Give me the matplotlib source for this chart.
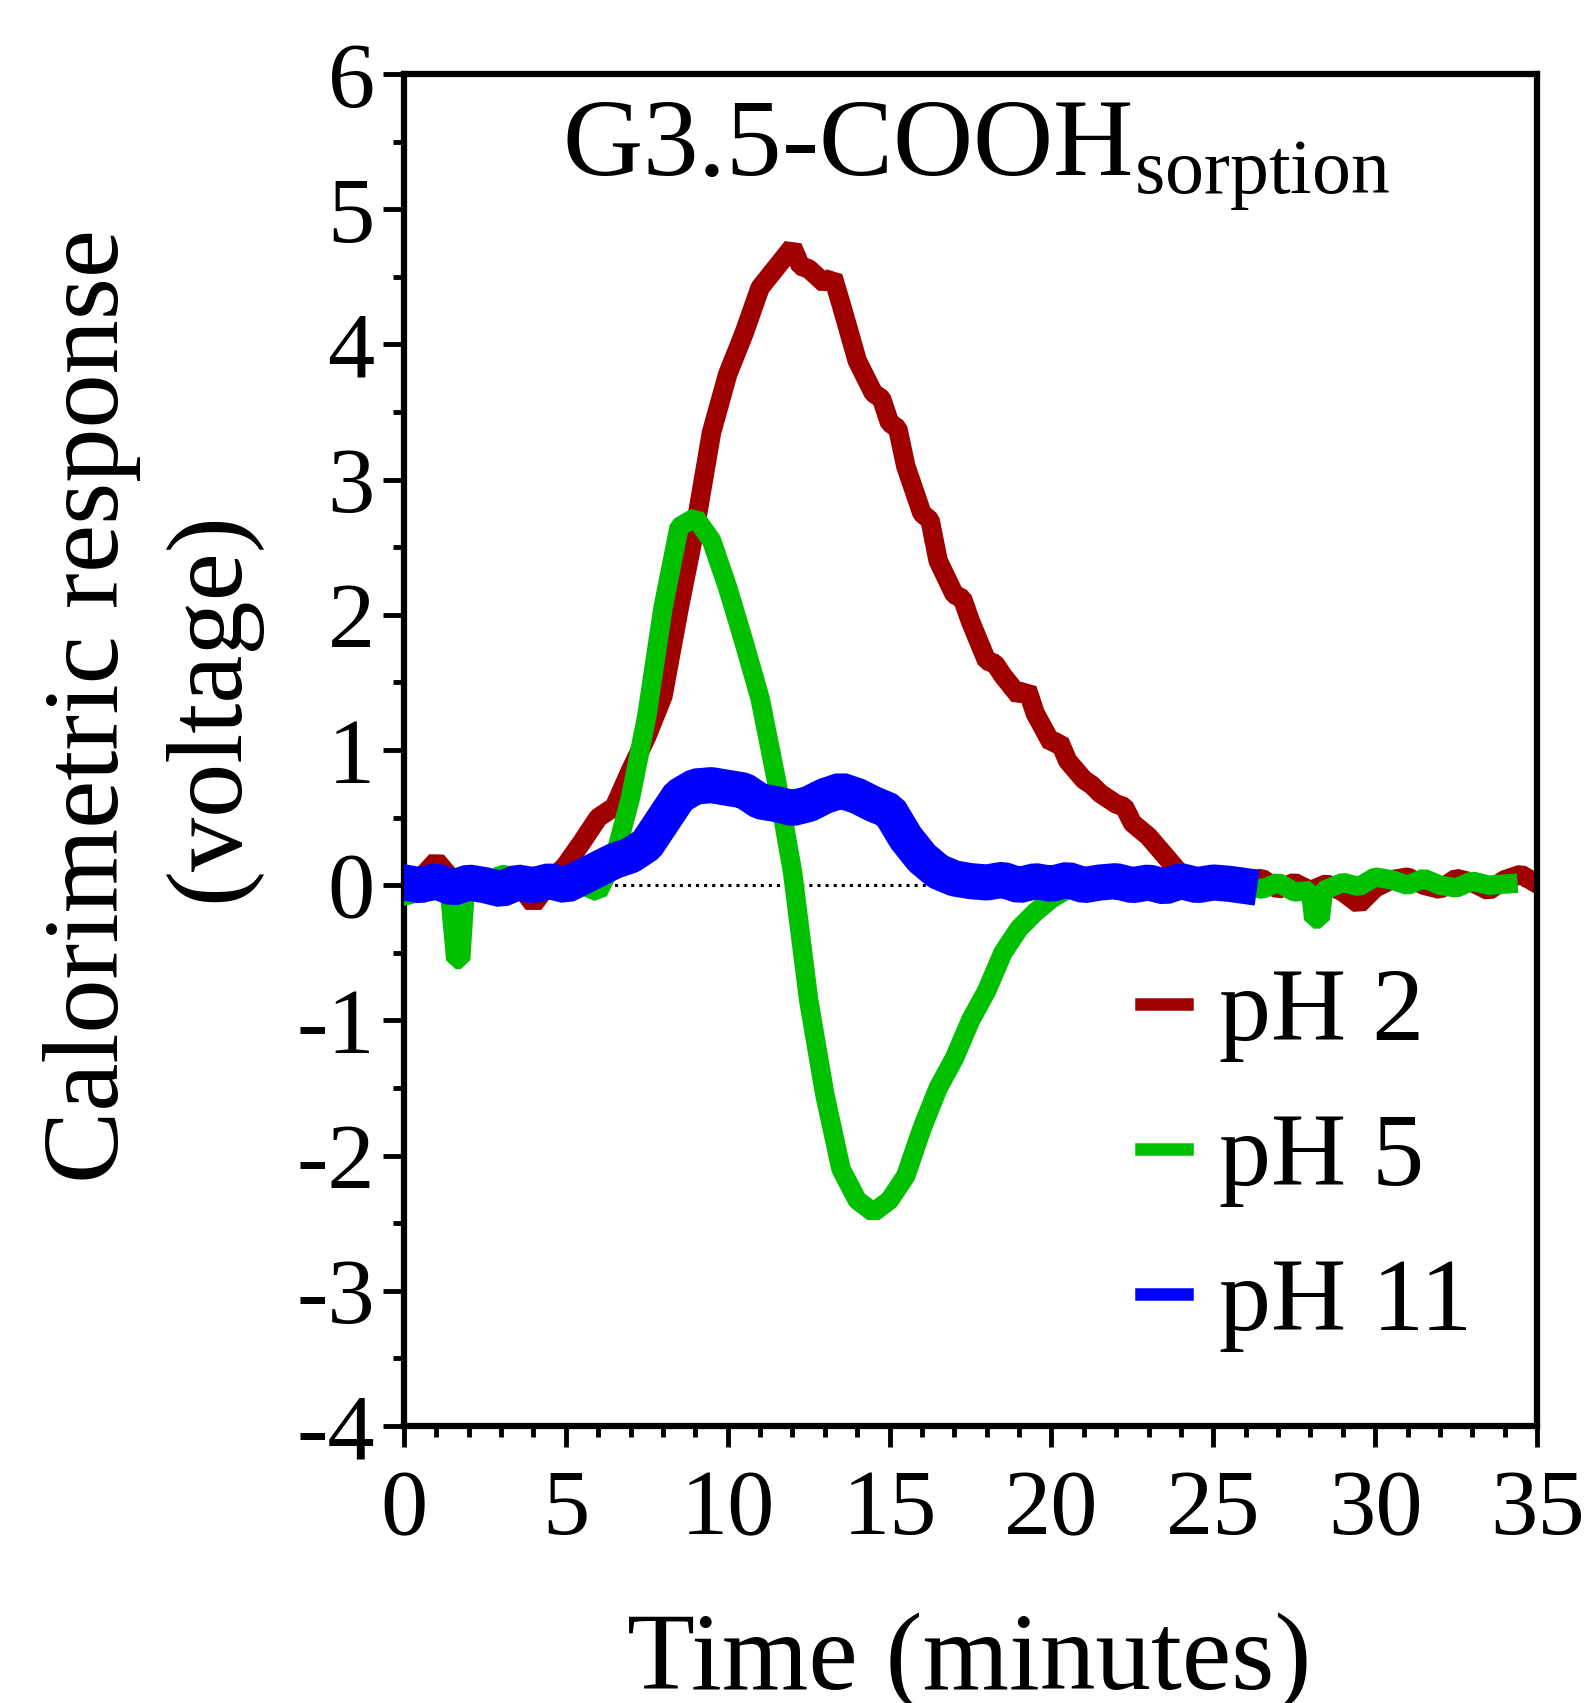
import numpy as np
import matplotlib.pyplot as plt
from matplotlib.ticker import MultipleLocator
from matplotlib.lines import Line2D

plt.rcParams['font.family'] = 'Liberation Serif'
plt.rcParams['mathtext.fontset'] = 'custom'
plt.rcParams['mathtext.rm'] = 'Liberation Serif'
plt.rcParams['axes.unicode_minus'] = False

# ---- data (time in minutes, response in V) ----
t_ph2 = [0, 0.5, 1.0, 1.5, 2.0, 2.5, 3.0, 3.5, 4.0, 4.5, 5.0, 5.5, 6.0, 6.5, 7.0,
         7.5, 8.0, 8.5, 9.0, 9.5, 10.0, 10.5, 11.0, 11.5, 12.0, 12.25, 12.5, 13.0,
         13.25, 13.5, 14.0, 14.5, 14.75, 15.0, 15.25, 15.5, 16.0, 16.25, 16.5, 17.0,
         17.25, 17.5, 18.0, 18.25, 18.5, 19.0, 19.25, 19.5, 20.0, 20.25, 20.5, 21.0,
         21.25, 21.5, 22.0, 22.25, 22.5, 23.0, 23.5, 24.0, 24.5, 25.0, 25.5, 26.0,
         26.5, 27.0, 27.5, 28.0, 28.5, 29.0, 29.5, 30.0, 30.5, 31.0, 31.5, 32.0,
         32.5, 33.0, 33.5, 34.0, 34.5, 35.0]
v_ph2 = [0.02, 0.05, 0.18, 0.04, 0.03, -0.04, 0.05, 0.02, -0.14, 0.02, 0.15, 0.32,
         0.50, 0.58, 0.85, 1.10, 1.40, 2.05, 2.65, 3.35, 3.78, 4.08, 4.42, 4.57,
         4.72, 4.58, 4.56, 4.45, 4.50, 4.30, 3.88, 3.64, 3.60, 3.42, 3.38, 3.10,
         2.75, 2.70, 2.40, 2.15, 2.12, 1.95, 1.66, 1.64, 1.55, 1.40, 1.45, 1.27,
         1.05, 1.06, 0.92, 0.78, 0.74, 0.68, 0.60, 0.58, 0.46, 0.36, 0.22, 0.08,
         0.02, 0.05, -0.02, 0.03, 0.05, -0.03, 0.02, -0.04, 0.01, -0.05, -0.14,
         -0.02, 0.04, 0.06, 0.00, -0.03, 0.05, 0.02, -0.04, 0.04, 0.08, 0.01]

t_ph5 = [0, 0.5, 1.0, 1.4, 1.6, 1.75, 1.9, 2.5, 3.0, 3.5, 4.0, 4.5, 5.0, 5.5, 6.0,
         6.5, 7.0, 7.5, 8.0, 8.5, 9.0, 9.5, 10.0, 10.5, 11.0, 11.5, 12.0, 12.5,
         13.0, 13.5, 14.0, 14.5, 15.0, 15.5, 16.0, 16.5, 17.0, 17.5, 18.0, 18.5,
         19.0, 19.5, 20.0, 20.5, 21.0, 21.5, 22.0, 22.5, 23.0, 23.5, 24.0, 24.5,
         25.0, 25.5, 26.0, 26.5, 27.0, 27.5, 28.0, 28.1, 28.3, 28.4, 29.0, 29.5,
         30.0, 30.5, 31.0, 31.5, 32.0, 32.5, 33.0, 33.5, 34.1]
v_ph5 = [-0.08, -0.05, -0.04, -0.03, -0.55, -0.55, 0.00, -0.03, 0.08, 0.06, 0.00,
         -0.03, -0.02, 0.00, -0.05, 0.20, 0.65, 1.25, 2.05, 2.65, 2.72, 2.55, 2.20,
         1.80, 1.38, 0.78, 0.10, -0.85, -1.55, -2.10, -2.33, -2.42, -2.33, -2.15,
         -1.80, -1.50, -1.28, -1.00, -0.78, -0.50, -0.32, -0.20, -0.10, -0.03, 0.03,
         0.05, 0.04, 0.02, 0.05, 0.03, 0.06, 0.02, 0.05, 0.02, 0.00, -0.03, 0.02,
         -0.05, -0.04, -0.25, -0.25, -0.04, 0.02, -0.01, 0.06, 0.04, 0.00, 0.05,
         0.00, -0.02, 0.03, 0.00, 0.01]

t_ph11 = [0, 0.5, 1.0, 1.5, 2.0, 2.5, 3.0, 3.5, 4.0, 4.5, 5.0, 5.5, 6.0, 6.5, 7.0,
          7.5, 8.0, 8.5, 9.0, 9.5, 10.0, 10.5, 11.0, 11.5, 12.0, 12.5, 13.0, 13.5,
          14.0, 14.5, 15.0, 15.5, 16.0, 16.5, 17.0, 17.5, 18.0, 18.5, 19.0, 19.5,
          20.0, 20.5, 21.0, 21.5, 22.0, 22.5, 23.0, 23.5, 24.0, 24.5, 25.0, 25.5,
          25.8]
v_ph11 = [0.02, 0.00, 0.03, -0.02, 0.02, 0.00, -0.03, 0.02, 0.00, 0.03, 0.00, 0.06,
          0.12, 0.18, 0.22, 0.30, 0.48, 0.66, 0.73, 0.74, 0.72, 0.70, 0.62, 0.60,
          0.57, 0.60, 0.66, 0.70, 0.66, 0.60, 0.55, 0.35, 0.20, 0.10, 0.05, 0.03,
          0.02, 0.04, 0.00, 0.03, 0.01, 0.04, 0.00, 0.02, 0.03, 0.00, 0.02, -0.01,
          0.03, 0.00, 0.02, 0.01, 0.00]

labels = ['pH 2', 'pH 5', 'pH 11']
colors = ['#A00000', '#00C000', '#0000FF']

fig = plt.figure(figsize=(15.93, 17.03), dpi=100)
ax = fig.add_axes([0.2536, 0.1627, 0.7113, 0.7938])

ax.axhline(0, color='black', linestyle=':', linewidth=2.2, zorder=1)
ax.plot(t_ph2, v_ph2, color=colors[0], linewidth=14, solid_joinstyle='bevel', zorder=2)
ax.plot(t_ph5, v_ph5, color=colors[1], linewidth=14, solid_joinstyle='bevel', zorder=3)
ax.plot(t_ph11, v_ph11, color=colors[2], linewidth=26, solid_joinstyle='bevel', zorder=4)

ax.set_xlim(0, 35)
ax.set_ylim(-4, 6)
ax.xaxis.set_major_locator(MultipleLocator(5))
ax.xaxis.set_minor_locator(MultipleLocator(1))
ax.yaxis.set_major_locator(MultipleLocator(1))
ax.yaxis.set_minor_locator(MultipleLocator(0.5))

for s in ax.spines.values():
    s.set_linewidth(4.5)
ax.tick_params(which='major', direction='out', length=15, width=3.5, labelsize=68)
ax.tick_params(which='minor', direction='out', length=8, width=3.5)
ax.tick_params(axis='x', which='major', pad=16)
ax.tick_params(axis='y', which='major', pad=6)

ax.text(0.505, 0.924, r'G3.5-COOH$_{\mathrm{sorption}}$', transform=ax.transAxes,
        ha='center', va='baseline', fontsize=80)

handles = [Line2D([], [], color=c, linewidth=9) for c in colors]
ax.legend(handles, labels, loc='center left', bbox_to_anchor=(0.65, 0.197),
          frameon=False, fontsize=75, handlelength=0.45, handletextpad=0.3,
          labelspacing=0.48, borderpad=0, borderaxespad=0)

fig.text(152 / 1593, 0.5854, 'Calorimetric response\n(voltage)', rotation=90,
         ha='center', va='center', multialignment='center', fontsize=78,
         linespacing=1.28)
fig.text(969 / 1593, 0.008, 'Time (minutes)', ha='center', va='baseline', fontsize=80)

fig.savefig('out.png', dpi=100)
